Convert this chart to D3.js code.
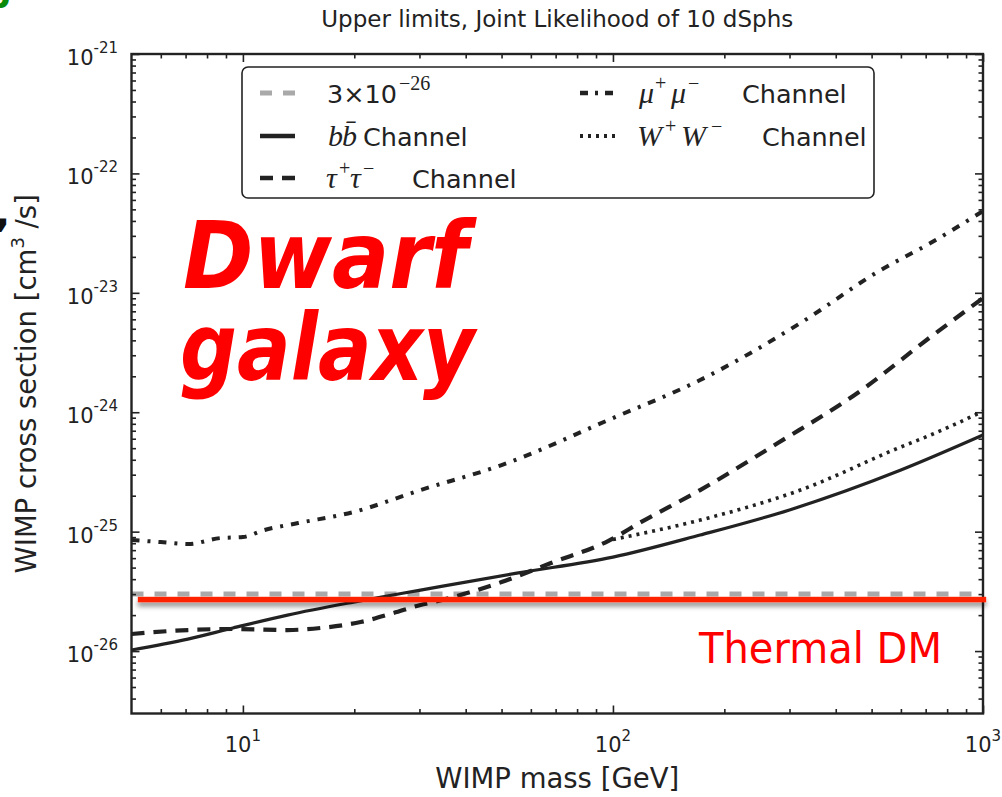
<!DOCTYPE html>
<html>
<head>
<meta charset="utf-8">
<script src="https://cdn.jsdelivr.net/npm/d3@7"></script>
<style>
  html, body { margin: 0; padding: 0; background: #fff; }
  svg { display: block; }
  text { font-family: "DejaVu Sans", sans-serif; fill: #222; }
</style>
</head>
<body>
<svg id="chart" width="1002" height="797"></svg>
<script>
// ---- data: upper limits on <sigma v> [cm^3/s] vs WIMP mass [GeV] ----
const massBB  = [5, 7.1, 9.4, 13.2, 19.9, 30.2, 55, 100, 172, 300, 600, 1000];
const sigmaBB = [1.02e-26, 1.26e-26, 1.56e-26, 2.0e-26, 2.57e-26, 3.24e-26, 4.5e-26, 6.12e-26, 9.37e-26, 1.52e-25, 3.28e-25, 6.44e-25];

const massTau  = [5, 7.1, 9.4, 13.2, 16.2, 20.8, 25.5, 30.2, 32.7, 50, 68, 97, 119, 172, 279, 458, 721, 1000];
const sigmaTau = [1.39e-26, 1.5e-26, 1.53e-26, 1.5e-26, 1.56e-26, 1.75e-26, 2.08e-26, 2.43e-26, 2.57e-26, 3.78e-26, 5.46e-26, 8.34e-26, 1.2e-25, 2.23e-25, 5.52e-25, 1.45e-24, 4.26e-24, 9.04e-24];

const massMu  = [5, 6, 7.1, 8.7, 10, 11.4, 14.1, 19.9, 30.2, 50, 100, 172, 321, 529, 721, 1000];
const sigmaMu = [8.5e-26, 8.18e-26, 7.87e-26, 8.84e-26, 9.01e-26, 1.03e-25, 1.18e-25, 1.46e-25, 2.23e-25, 3.61e-25, 8.94e-25, 1.86e-24, 5.58e-24, 1.55e-23, 2.61e-23, 4.84e-23];

const massWW  = [100, 172, 321, 599, 721, 1000];
const sigmaWW = [8.6e-26, 1.25e-25, 2.23e-25, 5.11e-25, 6.44e-25, 1.02e-24];

const canonicalSigma = 3e-26;          // grey reference line
const thermalSigma   = 2.7e-26;        // red "Thermal DM" line
const thermalMassRange = [5.2, 1020];

// ---- tick labels ----
const xTickValues = [10, 100, 1000];
const xTickExponents = ["1", "2", "3"];
const yTickValues = [1e-26, 1e-25, 1e-24, 1e-23, 1e-22, 1e-21];
const yTickExponents = ["-26", "-25", "-24", "-23", "-22", "-21"];

// ---- text ----
const titleText = "Upper limits, Joint Likelihood of 10 dSphs";
const xLabelText = "WIMP mass [GeV]";

// ---- layout ----
const plot = { left: 131.5, right: 983, top: 54, bottom: 713.5 };
const svg = d3.select("#chart");
const ink = "#222";

const x = d3.scaleLog().domain([5, 1000]).range([plot.left, plot.right]);
const y = d3.scaleLog().domain([3e-27, 1e-21]).range([plot.bottom, plot.top]);

// minor tick values, 2..9 within each decade
function minorTicks(scale) {
  const [lo, hi] = scale.domain();
  const out = [];
  for (let e = Math.floor(Math.log10(lo)); e <= Math.ceil(Math.log10(hi)); e++) {
    for (let k = 2; k <= 9; k++) {
      const v = k * Math.pow(10, e);
      if (v > lo * 1.0001 && v < hi * 0.9999) out.push(v);
    }
  }
  return out;
}

const defs = svg.append("defs");
defs.append("clipPath").attr("id", "plotClip")
  .append("rect")
  .attr("x", plot.left).attr("y", plot.top)
  .attr("width", plot.right - plot.left).attr("height", plot.bottom - plot.top);
const shadow = defs.append("filter").attr("id", "lineShadow")
  .attr("filterUnits", "userSpaceOnUse")
  .attr("x", 100).attr("y", 560).attr("width", 920).attr("height", 90);
shadow.append("feDropShadow")
  .attr("dx", 0).attr("dy", 4).attr("stdDeviation", 2.5)
  .attr("flood-color", "#000").attr("flood-opacity", 0.45);

// ---- series ----
const line = d3.line()
  .x(d => x(d[0]))
  .y(d => y(d[1]))
  .curve(d3.curveMonotoneX);

const series = [
  { mass: massBB,  sigma: sigmaBB,  width: 3.2, dash: null },
  { mass: massTau, sigma: sigmaTau, width: 4.2, dash: "13,9" },
  { mass: massMu,  sigma: sigmaMu,  width: 4.0, dash: "8,8,3,8" },
  { mass: massWW,  sigma: sigmaWW,  width: 3.6, dash: "3,5" }
];

const lines = svg.append("g").attr("clip-path", "url(#plotClip)");

// grey 3e-26 reference
lines.append("line")
  .attr("x1", x(5)).attr("x2", x(1000))
  .attr("y1", y(canonicalSigma)).attr("y2", y(canonicalSigma))
  .attr("stroke", "#a9a9a9").attr("stroke-width", 5)
  .attr("stroke-dasharray", "12,11");

series.forEach(s => {
  lines.append("path")
    .datum(s.mass.map((m, i) => [m, s.sigma[i]]))
    .attr("d", line)
    .attr("fill", "none")
    .attr("stroke", ink)
    .attr("stroke-width", s.width)
    .attr("stroke-dasharray", s.dash);
});

// ---- axes: inward ticks on all four sides ----
function styleAxis(g) {
  g.select(".domain").remove();
  g.selectAll(".tick line").attr("stroke", ink).attr("stroke-width", 1.6);
  g.selectAll(".tick text").remove();
}
const axes = svg.append("g");
const xMinor = minorTicks(x), yMinor = minorTicks(y);

[[d3.axisBottom, plot.bottom], [d3.axisTop, plot.top]].forEach(([ax, pos]) => {
  axes.append("g").attr("transform", `translate(0,${pos})`)
    .call(ax(x).tickValues(xTickValues).tickSize(-8).tickFormat("")).call(styleAxis);
  axes.append("g").attr("transform", `translate(0,${pos})`)
    .call(ax(x).tickValues(xMinor).tickSize(-4.5).tickFormat("")).call(styleAxis);
});
[[d3.axisLeft, plot.left], [d3.axisRight, plot.right]].forEach(([ax, pos]) => {
  axes.append("g").attr("transform", `translate(${pos},0)`)
    .call(ax(y).tickValues(yTickValues).tickSize(-8).tickFormat("")).call(styleAxis);
  axes.append("g").attr("transform", `translate(${pos},0)`)
    .call(ax(y).tickValues(yMinor).tickSize(-4.5).tickFormat("")).call(styleAxis);
});

// frame
svg.append("rect")
  .attr("x", plot.left).attr("y", plot.top)
  .attr("width", plot.right - plot.left).attr("height", plot.bottom - plot.top)
  .attr("fill", "none").attr("stroke", ink).attr("stroke-width", 2.4);

// tick labels 10^n
xTickValues.forEach((v, i) => {
  const t = svg.append("text")
    .attr("x", x(v)).attr("y", 752)
    .attr("text-anchor", "middle").attr("font-size", 21);
  t.append("tspan").text("10");
  t.append("tspan").attr("dy", -11).attr("font-size", 15).text(xTickExponents[i]);
});
yTickValues.forEach((v, i) => {
  const t = svg.append("text")
    .attr("x", 118).attr("y", y(v) + 11)
    .attr("text-anchor", "end").attr("font-size", 21);
  t.append("tspan").text("10");
  t.append("tspan").attr("dy", -12).attr("font-size", 15).text(yTickExponents[i]);
});

// axis titles
svg.append("text")
  .attr("x", (plot.left + plot.right) / 2).attr("y", 788)
  .attr("text-anchor", "middle").attr("font-size", 27.5)
  .text(xLabelText);

const yl = svg.append("text")
  .attr("transform", `translate(36,${(plot.top + plot.bottom) / 2}) rotate(-90)`)
  .attr("text-anchor", "middle").attr("font-size", 27.5);
yl.append("tspan").text("WIMP cross section [cm");
yl.append("tspan").attr("dy", -12).attr("font-size", 18).text("3");
yl.append("tspan").attr("dy", 12).text(" /s]");

svg.append("text")
  .attr("x", (plot.left + plot.right) / 2).attr("y", 27)
  .attr("text-anchor", "middle").attr("font-size", 23)
  .text(titleText);

// ---- legend ----
const legend = svg.append("g");
legend.append("rect")
  .attr("x", 242).attr("y", 67).attr("width", 632).attr("height", 131)
  .attr("rx", 6).attr("fill", "#fff").attr("stroke", ink).attr("stroke-width", 1.6);

const handles = [
  { x0: 260, y: 93,  color: "#a9a9a9", width: 5,   dash: "12,11" },
  { x0: 260, y: 136, color: ink,       width: 4.5, dash: null },
  { x0: 260, y: 178, color: ink,       width: 4.5, dash: "13,9" },
  { x0: 580, y: 93,  color: ink,       width: 4.5, dash: "8,7,3,7" },
  { x0: 580, y: 136, color: ink,       width: 4,   dash: "3,5" }
];
handles.forEach(h => {
  legend.append("line")
    .attr("x1", h.x0).attr("x2", h.x0 + 35)
    .attr("y1", h.y).attr("y2", h.y)
    .attr("stroke", h.color).attr("stroke-width", h.width)
    .attr("stroke-dasharray", h.dash);
});

const mathFont = "'Liberation Serif', 'DejaVu Serif', serif";
// one legend label made of positioned runs: [kind, x, text]
function legendLabel(baseY, runs) {
  const t = legend.append("text").attr("font-size", 25.5);
  runs.forEach(([kind, rx, str]) => {
    const s = t.append("tspan").attr("x", rx).text(str);
    if (kind === "math") {
      s.attr("y", baseY).attr("font-family", mathFont)
        .attr("font-style", "italic").attr("font-size", 30);
    } else if (kind === "sup") {
      s.attr("y", baseY - 13).attr("font-family", mathFont).attr("font-size", 20);
    } else {
      s.attr("y", baseY);
    }
  });
}

legendLabel(103, [["text", 327, "3×10"], ["sup", 399, "−26"]]);
legendLabel(146, [["math", 328, "b"], ["math", 342, "b\u0304"], ["text", 363, "Channel"]]);
legendLabel(188, [["math", 326, "τ"], ["sup", 339, "+"], ["math", 350, "τ"], ["sup", 363, "−"],
                  ["text", 412, "Channel"]]);
legendLabel(103, [["math", 639, "μ"], ["sup", 655, "+"], ["math", 671, "μ"], ["sup", 688, "−"],
                  ["text", 742, "Channel"]]);
legendLabel(146, [["math", 637, "W"], ["sup", 665, "+"], ["math", 681, "W"], ["sup", 711, "−"],
                  ["text", 762, "Channel"]]);

// ---- thermal relic line and annotations ----
const thermalWidth = 5.5;
svg.append("rect")
  .attr("x", x(thermalMassRange[0]))
  .attr("width", x(thermalMassRange[1]) - x(thermalMassRange[0]))
  .attr("y", y(thermalSigma) - thermalWidth / 2)
  .attr("height", thermalWidth)
  .attr("fill", "#ff2400")
  .attr("filter", "url(#lineShadow)");

svg.append("text")
  .attr("x", 699).attr("y", 663)
  .attr("font-family", "Lato, 'Open Sans', sans-serif").attr("font-size", 43)
  .attr("textLength", 243).attr("lengthAdjust", "spacingAndGlyphs")
  .style("fill", "#ff0000")
  .text("Thermal DM");

const bigFont = "'Open Sans', Lato, sans-serif";
svg.append("text")
  .attr("x", 183).attr("y", 288)
  .attr("font-family", bigFont).attr("font-weight", 800).attr("font-style", "italic")
  .attr("font-size", 92)
  .attr("textLength", 285).attr("lengthAdjust", "spacingAndGlyphs")
  .style("fill", "#ff0000")
  .text("Dwarf");
svg.append("text")
  .attr("x", 180).attr("y", 380)
  .attr("font-family", bigFont).attr("font-weight", 800).attr("font-style", "italic")
  .attr("font-size", 92)
  .attr("textLength", 295).attr("lengthAdjust", "spacingAndGlyphs")
  .style("fill", "#ff0000")
  .text("galaxy");

// partial panel letters at the page edge
svg.append("text")
  .attr("x", -14).attr("y", 8)
  .attr("font-weight", "bold").attr("font-size", 34)
  .style("fill", "#0a8a0a")
  .text("b");
svg.append("text")
  .attr("x", -5).attr("y", 226)
  .attr("font-weight", "bold").attr("font-size", 40)
  .style("fill", "#111")
  .text(",");
</script>
</body>
</html>
